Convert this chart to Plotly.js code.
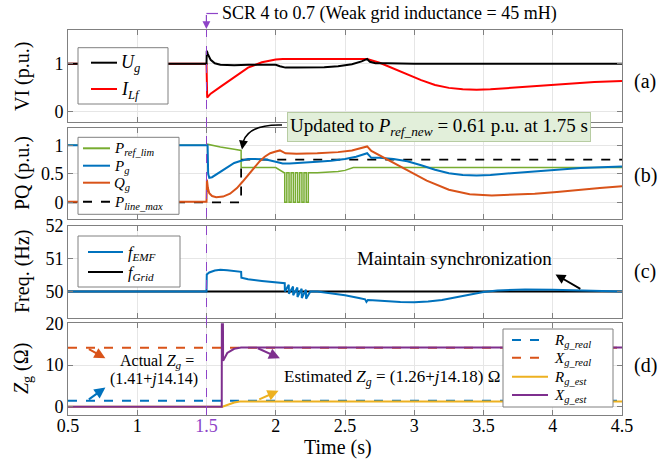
<!DOCTYPE html>
<html><head><meta charset="utf-8">
<script src="https://cdn.plot.ly/plotly-3.0.1.min.js"></script>
<style>html,body{margin:0;padding:0;background:#fff}#chart{width:671px;height:461px}</style>
</head><body><div id="chart"></div>
<script>
// ---------------- DATA ----------------
const xTickVals = [0.5, 1, 1.5, 2, 2.5, 3, 3.5, 4, 4.5];
const xTickLabels = ['0.5', '1', '1.5', '2', '2.5', '3', '3.5', '4', '4.5'];

// (a) voltage / current
const t_Ug = [0.5, 1.5, 1.502, 1.51, 1.53, 1.56, 1.6, 1.7, 1.8, 1.9, 2.0, 2.03, 2.07, 2.15, 2.25, 2.35, 2.45, 2.55, 2.62, 2.66, 2.68, 2.72, 2.8, 3.0, 3.5, 4.0, 4.5];
const v_Ug = [1.0, 1.0, 1.27, 1.2, 1.08, 1.01, 0.98, 0.97, 0.98, 0.98, 0.98, 0.95, 0.92, 0.92, 0.92, 0.93, 0.95, 0.99, 1.05, 1.1, 1.04, 1.01, 1.01, 1.0, 1.0, 1.0, 1.0];
const t_ILf = [0.5, 1.5, 1.505, 1.53, 1.6, 1.7, 1.8, 1.9, 2.0, 2.05, 2.3, 2.5, 2.66, 2.75, 2.85, 2.95, 3.05, 3.15, 3.25, 3.35, 3.45, 3.55, 3.7, 3.9, 4.1, 4.3, 4.5];
const v_ILf = [1.0, 1.0, 0.3, 0.38, 0.52, 0.72, 0.92, 1.03, 1.09, 1.1, 1.1, 1.1, 1.1, 1.02, 0.9, 0.78, 0.66, 0.56, 0.5, 0.47, 0.46, 0.47, 0.5, 0.55, 0.59, 0.62, 0.64];

// (b) powers
const t_Pref = [0.5, 1.5, 1.505, 1.52, 1.6, 1.7, 1.75, 1.75, 2.0, 2.06,
  2.065, 2.065, 2.08, 2.08, 2.096, 2.096, 2.111, 2.111, 2.127, 2.127, 2.142, 2.142,
  2.158, 2.158, 2.173, 2.173, 2.189, 2.189, 2.204, 2.204, 2.22, 2.22, 2.235, 2.235,
  2.3, 2.45, 2.5, 2.56, 4.5];
const v_Pref = [1.0, 1.0, 1.02, 1.01, 0.97, 0.93, 0.91, 0.61, 0.61, 0.52,
  0.52, 0, 0, 0.52, 0.52, 0, 0, 0.52, 0.52, 0, 0, 0.52,
  0.52, 0, 0, 0.52, 0.52, 0, 0, 0.52, 0.52, 0, 0, 0.52,
  0.52, 0.54, 0.56, 0.61, 0.61];
const t_Pg = [0.5, 1.5, 1.508, 1.512, 1.52, 1.54, 1.58, 1.62, 1.66, 1.7, 1.75, 1.8, 1.85, 1.93, 2.0, 2.05, 2.1, 2.2, 2.3, 2.4, 2.5, 2.58, 2.64, 2.66, 2.69, 2.75, 2.85, 2.95, 3.05, 3.15, 3.25, 3.35, 3.45, 3.55, 3.7, 3.85, 4.0, 4.2, 4.5];
const v_Pg = [1.0, 1.0, 1.0, 0.5, 0.43, 0.44, 0.5, 0.57, 0.63, 0.69, 0.73, 0.76, 0.76, 0.75, 0.71, 0.68, 0.68, 0.69, 0.71, 0.73, 0.76, 0.8, 0.84, 0.86, 0.78, 0.78, 0.76, 0.72, 0.65, 0.57, 0.51, 0.48, 0.47, 0.48, 0.51, 0.54, 0.57, 0.6, 0.63];
const t_Qg = [0.5, 1.5, 1.503, 1.51, 1.52, 1.54, 1.57, 1.62, 1.67, 1.72, 1.76, 1.8, 1.84, 1.88, 1.92, 1.96, 2.0, 2.03, 2.07, 2.15, 2.3, 2.45, 2.55, 2.62, 2.66, 2.69, 2.8, 2.94, 3.09, 3.25, 3.4, 3.56, 3.72, 3.87, 4.03, 4.18, 4.34, 4.5];
const v_Qg = [0.01, 0.01, 0.4, 0.25, 0.16, 0.11, 0.09, 0.1, 0.15, 0.25, 0.36, 0.48, 0.6, 0.71, 0.8, 0.86, 0.89, 0.91, 0.86, 0.85, 0.86, 0.88, 0.91, 0.95, 0.98, 0.9, 0.76, 0.58, 0.38, 0.22, 0.14, 0.12, 0.13, 0.15, 0.18, 0.22, 0.25, 0.28];
const t_Pline = [0.5, 1.75, 1.75, 4.5];
const v_Pline = [0, 0, 0.75, 0.75];

// (c) frequency
const t_fEMF = [0.5, 1.5, 1.502, 1.52, 1.56, 1.6, 1.65, 1.7, 1.75, 1.752, 1.8, 1.9, 2.0, 2.06,
  2.065, 2.066, 2.094, 2.095, 2.125, 2.126, 2.156, 2.157, 2.187, 2.188, 2.218, 2.219, 2.25,
  2.3, 2.4, 2.5, 2.6, 2.645, 2.655, 2.665, 2.7, 2.8, 2.9, 3.0, 3.1, 3.2, 3.3, 3.4, 3.5, 3.6, 3.8, 4.0, 4.2, 4.5];
const v_fEMF = [50, 50, 50.52, 50.58, 50.64, 50.66, 50.65, 50.63, 50.6, 50.42, 50.37, 50.32, 50.28, 50.25,
  50.25, 50.0, 50.2, 49.93, 50.15, 49.88, 50.12, 49.83, 50.08, 49.8, 50.05, 49.78, 50.0,
  50.0, 49.95, 49.88, 49.8, 49.76, 49.68, 49.74, 49.73, 49.7, 49.68, 49.67, 49.69, 49.74, 49.82, 49.91, 49.98, 50.03, 50.06, 50.05, 50.03, 50.0];
const t_fGrid = [0.5, 4.5];
const v_fGrid = [50, 50];

// (d) impedance
const t_real = [0.5, 4.5];
const v_Rreal = [1.41, 1.41];
const v_Xreal = [14.14, 14.14];
const t_Rest = [0.5, 1.615, 1.7, 1.74, 4.5];
const v_Rest = [0, 0, 1.0, 1.26, 1.26];
const t_Xest = [0.5, 1.61, 1.611, 1.618, 1.62, 1.65, 1.7, 1.75, 4.5];
const v_Xest = [0, 0, 25, 25, 11, 12.9, 13.9, 14.18, 14.18];

// ---------------- LAYOUT HELPERS ----------------
const F = '"Liberation Serif", "Times New Roman", Times, serif';
const W = 671, H = 461, ML = 68, MR = 49, MT = 30, MB = 46;
const PW = W - ML - MR, PH = H - MT - MB;
const px = x => (x - ML) / PW;
const py = y => (H - MB - y) / PH;

const C = {black:'#000000', red:'#FF0000', green:'#77AC30', blue:'#0072BD', orange:'#D95319', yellow:'#EDB120', purple:'#7E2F8E', violet:'#8E44C8'};
const AX = '#808080';

const xTickText = xTickLabels.map(s => s === '1.5' ? '<span style="color:#8E44C8">1.5</span>' : s);

function xax(anchor, labels) {
  return {range:[0.5, 4.5], anchor:anchor, tickmode:'array', tickvals:xTickVals, ticktext:xTickText,
    showticklabels:labels, ticks:'inside', ticklen:5, tickcolor:AX, showline:true, linecolor:AX, linewidth:1,
    mirror:'ticks', showgrid:true, gridcolor:'#e6e6e6', zeroline:false,
    tickfont:{family:F, size:18, color:'#000'}};
}
function yax(anchor, dom, rng, tv) {
  return {domain:dom, range:rng, anchor:anchor, tickmode:'array', tickvals:tv, ticks:'inside', ticklen:5,
    tickcolor:AX, showline:true, linecolor:AX, linewidth:1, mirror:'ticks', showgrid:true, gridcolor:'#e6e6e6',
    zeroline:false, tickfont:{family:F, size:18, color:'#000'}};
}

function tr(x, y, xa, ya, color, name, dash, width) {
  return {x:x, y:y, xaxis:xa, yaxis:ya, mode:'lines', name:name, showlegend:false, hoverinfo:'skip',
    line:{color:color, width:width || 2, dash:dash || 'solid'}};
}

const traces = [
  tr(t_ILf, v_ILf, 'x', 'y', C.red, 'I_Lf'),
  tr(t_Ug, v_Ug, 'x', 'y', C.black, 'U_g'),
  tr(t_Pref, v_Pref, 'x2', 'y2', C.green, 'P_ref_lim', 'solid', 1.5),
  tr(t_Pline, v_Pline, 'x2', 'y2', C.black, 'P_line_max', 'dash', 1.8),
  tr(t_Pg, v_Pg, 'x2', 'y2', C.blue, 'P_g'),
  tr(t_Qg, v_Qg, 'x2', 'y2', C.orange, 'Q_g'),
  tr(t_fGrid, v_fGrid, 'x3', 'y3', C.black, 'f_Grid'),
  tr(t_fEMF, v_fEMF, 'x3', 'y3', C.blue, 'f_EMF'),
  tr(t_real, v_Rreal, 'x4', 'y4', C.blue, 'R_g_real', 'dash'),
  tr(t_real, v_Xreal, 'x4', 'y4', C.orange, 'X_g_real', 'dash'),
  tr(t_Rest, v_Rest, 'x4', 'y4', C.yellow, 'R_g_est'),
  tr(t_Xest, v_Xest, 'x4', 'y4', C.purple, 'X_g_est')
];

const shapes = [];
const annotations = [];

// vertical event line at t = 1.5
shapes.push({type:'line', xref:'x', yref:'paper', x0:1.5, x1:1.5, y0:0, y1:1, layer:'above',
  line:{color:C.violet, width:1, dash:'dash'}});
// bracket of event label
shapes.push({type:'line', xref:'paper', yref:'paper', x0:px(206.4), x1:px(218), y0:py(13.5), y1:py(13.5),
  line:{color:C.violet, width:1.2}});
annotations.push({xref:'paper', yref:'paper', x:px(206.4), y:py(29), ax:0, ay:-15.5, text:'', showarrow:true,
  arrowhead:2, arrowsize:1.3, arrowwidth:1.2, arrowcolor:C.violet});
annotations.push({xref:'paper', yref:'paper', x:px(220), y:py(14), xanchor:'left', yanchor:'middle', showarrow:false,
  text:'SCR 4 to 0.7 (Weak grid inductance = 45 mH)', font:{family:F, size:18, color:'#000'}});

// x title
annotations.push({xref:'paper', yref:'paper', x:px(338), y:py(448), xanchor:'center', yanchor:'middle', showarrow:false,
  text:'Time (s)', font:{family:F, size:20, color:'#000'}});

// y titles
const yTitles = [['VI (p.u.)', 77], ['PQ (p.u.)', 173], ['Freq. (Hz)', 272], ['<i>Z</i><sub>g</sub> (Ω)', 369]];
yTitles.forEach(([t, y]) => annotations.push({xref:'paper', yref:'paper', x:px(22), y:py(y), textangle:-90,
  xanchor:'center', yanchor:'middle', showarrow:false, text:t, font:{family:F, size:20, color:'#000'}}));
// panel labels
[['(a)', 81], ['(b)', 175], ['(c)', 271], ['(d)', 365]].forEach(([t, y]) => annotations.push({xref:'paper', yref:'paper',
  x:px(645), y:py(y), xanchor:'center', yanchor:'middle', showarrow:false, text:t, font:{family:F, size:20, color:'#000'}}));

// legends (drawn boxes)
function legend(box, lx, tx, ys, fs, entries) {
  shapes.push({type:'rect', xref:'paper', yref:'paper', x0:px(box[0]), x1:px(box[2]), y0:py(box[1]), y1:py(box[3]),
    fillcolor:'#ffffff', line:{color:AX, width:1}, layer:'above'});
  entries.forEach((e, i) => {
    shapes.push({type:'line', xref:'paper', yref:'paper', x0:px(lx[0]), x1:px(lx[1]), y0:py(ys[i]), y1:py(ys[i]),
      layer:'above', line:{color:e[1], width:2, dash:e[2] || 'solid'}});
    annotations.push({xref:'paper', yref:'paper', x:px(tx), y:py(ys[i] + 1), xanchor:'left', yanchor:'middle',
      showarrow:false, text:e[0], font:{family:F, size:fs, color:'#000'}});
  });
}
legend([78, 47.7, 168, 104], [91, 117], 119, [62.7, 89], 18,
  [['<i>U</i><sub><i>g</i></sub>', C.black], ['<i>I</i><sub><i>Lf</i></sub>', C.red]]);
legend([78, 137.3, 179, 214.3], [83, 110], 112, [148.3, 165.7, 182.7, 201.7], 15,
  [['<i>P</i><sub><i>ref_lim</i></sub>', C.green], ['<i>P</i><sub><i>g</i></sub>', C.blue],
   ['<i>Q</i><sub><i>g</i></sub>', C.orange], ['<i>P</i><sub><i>line_max</i></sub>', C.black, 'dash']]);
legend([78, 236, 180, 287], [88, 123], 126, [252, 272], 16,
  [['<i>f</i><sub><i>EMF</i></sub>', C.blue], ['<i>f</i><sub><i>Grid</i></sub>', C.black]]);
legend([503, 329, 613, 407], [512, 548], 552, [340, 357.7, 376.7, 395], 15,
  [['<i>R</i><sub><i>g_real</i></sub>', C.blue, 'dash'], ['<i>X</i><sub><i>g_real</i></sub>', C.orange, 'dash'],
   ['<i>R</i><sub><i>g_est</i></sub>', C.yellow], ['<i>X</i><sub><i>g_est</i></sub>', C.purple]]);

// (b) update note with curved arrow
annotations.push({xref:'paper', yref:'paper', x:px(439), y:py(127), xanchor:'center', yanchor:'middle', showarrow:false,
  text:'Updated to <i>P</i><sub><i>ref_new</i></sub> = 0.61 p.u. at 1.75 s', bgcolor:'#E2EFDA', bordercolor:'#B7CCA2',
  borderwidth:1, borderpad:2, font:{family:F, size:19, color:'#000'}});
shapes.push({type:'path', xref:'paper', yref:'paper', layer:'above', line:{color:'#000', width:1.5},
  path:'M ' + px(282) + ' ' + py(125) + ' Q ' + px(250) + ' ' + py(124) + ' ' + px(243.5) + ' ' + py(141)});
annotations.push({xref:'paper', yref:'paper', x:px(242), y:py(149.5), ax:1.5, ay:-9, text:'', showarrow:true,
  arrowhead:2, arrowsize:1.2, arrowwidth:1.5, arrowcolor:'#000'});

// (c) note
annotations.push({xref:'x3', yref:'y3', x:3.29, y:51.0, showarrow:false, text:'Maintain synchronization',
  font:{family:F, size:19, color:'#000'}});
annotations.push({xref:'x3', yref:'y3', x:4.02, y:50.52, axref:'x3', ayref:'y3', ax:4.21, ay:50.05, text:'',
  showarrow:true, arrowhead:2, arrowsize:1.1, arrowwidth:1.8, arrowcolor:'#000'});

// (d) notes
annotations.push({xref:'x4', yref:'y4', x:1.14, y:10.8, showarrow:false, text:'Actual <i>Z</i><sub><i>g</i></sub> =',
  font:{family:F, size:16, color:'#000'}});
annotations.push({xref:'x4', yref:'y4', x:1.12, y:6.6, showarrow:false, text:'(1.41+<i>j</i>14.14)',
  font:{family:F, size:16, color:'#000'}});
annotations.push({xref:'x4', yref:'y4', x:2.84, y:6.9, showarrow:false,
  text:'Estimated <i>Z</i><sub><i>g</i></sub> = (1.26+<i>j</i>14.18) Ω', font:{family:F, size:17, color:'#000'}});
[[0.77, 11.6, 0.64, 14.0, C.orange], [0.77, 4.6, 0.64, 1.5, C.blue], [2.03, 11.6, 1.86, 14.2, C.purple], [2.02, 3.8, 1.87, 1.6, C.yellow]]
  .forEach(a => annotations.push({xref:'x4', yref:'y4', axref:'x4', ayref:'y4', x:a[0], y:a[1], ax:a[2], ay:a[3],
    text:'', showarrow:true, arrowhead:2, arrowsize:1.1, arrowwidth:2, arrowcolor:a[4]}));

const layout = {
  width:W, height:H, margin:{l:ML, r:MR, t:MT, b:MB}, paper_bgcolor:'#fff', plot_bgcolor:'#fff',
  showlegend:false, font:{family:F, size:18, color:'#000'},
  xaxis:xax('y', false), yaxis:yax('x', [0.762, 1], [-0.2, 1.7], [0, 1]),
  xaxis2:xax('y2', false), yaxis2:yax('x2', [0.508, 0.745], [-0.3, 1.3], [0, 0.5, 1]),
  xaxis3:xax('y3', false), yaxis3:yax('x3', [0.253, 0.491], [49.2, 52], [50, 51, 52]),
  xaxis4:Object.assign(xax('y4', true), {ticklabelstandoff:-6}),
  yaxis4:yax('x4', [0, 0.238], [-2, 20], [0, 10, 20]),
  shapes:shapes, annotations:annotations
};
Plotly.newPlot('chart', traces, layout, {staticPlot:true, displayModeBar:false});
</script></body></html>
